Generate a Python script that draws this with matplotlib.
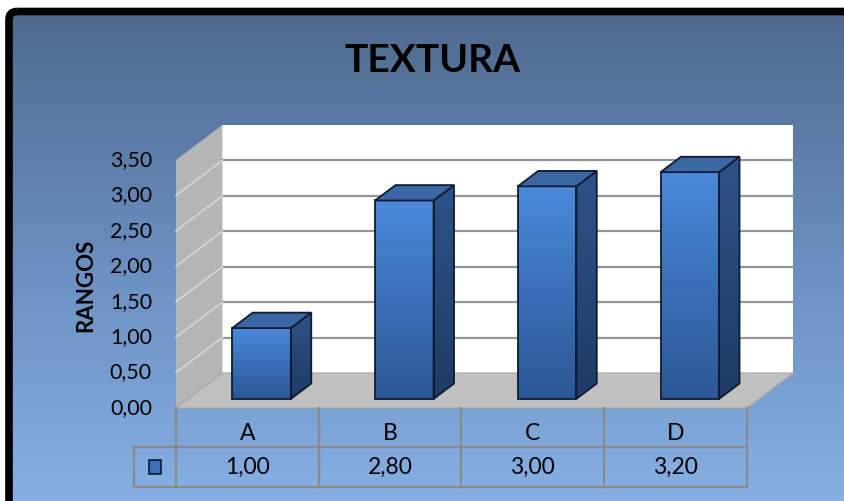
import numpy as np
import matplotlib
matplotlib.use('Agg')
import matplotlib.pyplot as plt
from matplotlib.patches import Polygon, FancyBboxPatch, Rectangle
from matplotlib.colors import LinearSegmentedColormap

# chart data
categories = ['A', 'B', 'C', 'D']
values = [1.00, 2.80, 3.00, 3.20]
y_ticks = [0.0, 0.5, 1.0, 1.5, 2.0, 2.5, 3.0, 3.5]
title = 'TEXTURA'
y_label = 'RANGOS'

plt.rcParams['font.family'] = ['Lato', 'DejaVu Sans']

W, H = 845, 501
fig = plt.figure(figsize=(W / 100, H / 100), dpi=100)

# background: blue gradient panel with black border
bg = fig.add_axes([0, 0, 1, 1])
bg.set_xlim(0, W)
bg.set_ylim(H, 0)
bg.axis('off')
grad = np.linspace(0, 1, 256).reshape(-1, 1)
bg_cmap = LinearSegmentedColormap.from_list('bg', ['#4e698e', '#6b8fc0', '#88b2e6'])
bg.imshow(grad, cmap=bg_cmap, extent=[9, 900, 520, 11], aspect='auto', zorder=0)
bg.add_patch(FancyBboxPatch((9, 11.5), 900, 520, boxstyle='round,pad=0,rounding_size=8',
                            facecolor='none', edgecolor='black', lw=5.5, zorder=2))
bg.set_xlim(0, W)
bg.set_ylim(H, 0)

# main axes = front plane of the 3d chart
ax = fig.add_axes([176 / W, (H - 408) / H, 571 / W, 248 / H])
ax.set_xlim(0, len(categories))
ax.set_ylim(0, 3.5)
ax.axis('off')
ax.patch.set_alpha(0)

DEPTH_X = 0.325   # category units for full depth
DEPTH_Y = 0.494   # value units for full depth


def proj(x, v, d):
    return (x + d * DEPTH_X, v + d * DEPTH_Y)


def face(pts, **kw):
    p = Polygon([proj(*q) for q in pts], closed=True, clip_on=False, **kw)
    ax.add_patch(p)
    return p


n = len(categories)
vmax = y_ticks[-1]

# walls and floor
face([(0, 0, 1), (n, 0, 1), (n, vmax, 1), (0, vmax, 1)], facecolor='white', edgecolor='none', zorder=1)
face([(0, 0, 0), (0, vmax, 0), (0, vmax, 1), (0, 0, 1)], facecolor='#b5b5b5', edgecolor='none', zorder=1)
face([(0, 0, 0), (n, 0, 0), (n, 0, 1), (0, 0, 1)], facecolor='#c0c0c0', edgecolor='#a8a8a8', lw=0.8, zorder=2)

for t in y_ticks[1:-1]:
    x0, y0 = proj(0, t, 1)
    x1, y1 = proj(n, t, 1)
    ax.plot([x0, x1], [y0, y1], color='#959595', lw=1.6, clip_on=False, zorder=1.5)
    x2, y2 = proj(0, t, 0)
    ax.plot([x2, x0], [y2, y0], color='#d6d6d6', lw=1.2, clip_on=False, zorder=1.5)

for t in y_ticks:
    ax.annotate(f'{t:.2f}'.replace('.', ','), xy=(0, t), xytext=(-24, 0), textcoords='offset pixels',
                ha='right', va='center', fontsize=15.5, color='black', annotation_clip=False)

# bars
front_cmap = LinearSegmentedColormap.from_list('front', ['#2c5894', '#3a6fb8', '#4a8ad8'])
side_cmap = LinearSegmentedColormap.from_list('side', ['#1f3b64', '#2e5288'])
edge = '#0e1b33'
bw = 0.41
d0, d1 = 0.26, 0.70
for i, v in enumerate(values):
    xl = i + 0.515 - bw / 2
    xr = xl + bw
    # front face
    fp = face([(xl, 0, d0), (xr, 0, d0), (xr, v, d0), (xl, v, d0)], facecolor='none',
              edgecolor=edge, lw=1.3, zorder=5)
    fx0, fy0 = proj(xl, 0, d0)
    fx1, fy1 = proj(xr, v, d0)
    ax.imshow(grad, cmap=front_cmap, origin='lower', extent=[fx0, fx1, fy0, fy1],
              aspect='auto', zorder=4, clip_path=fp)
    # side face
    sp = face([(xr, 0, d0), (xr, 0, d1), (xr, v, d1), (xr, v, d0)], facecolor='none',
              edgecolor=edge, lw=1.3, zorder=5)
    sx0, sy0 = proj(xr, 0, d0)
    sx1, sy1 = proj(xr, v, d1)
    ax.imshow(grad, cmap=side_cmap, origin='lower', extent=[sx0, sx1, sy0, sy1],
              aspect='auto', zorder=4, clip_path=sp)
    # top face
    face([(xl, v, d0), (xr, v, d0), (xr, v, d1), (xl, v, d1)], facecolor='#3a66a4',
         edgecolor=edge, lw=1.3, zorder=5)

ax.set_xlim(0, n)
ax.set_ylim(0, 3.5)

# data table below the floor
row_h = 0.556
key_w = 0.294
tc = '#8a8a8a'
ax.plot([0, 0], [0, -2 * row_h], color=tc, lw=1.6, clip_on=False, zorder=3)
for i in range(1, n + 1):
    ax.plot([i, i], [0, -2 * row_h], color=tc, lw=1.6, clip_on=False, zorder=3)
ax.plot([-key_w, n], [-row_h, -row_h], color=tc, lw=1.6, clip_on=False, zorder=3)
ax.plot([-key_w, n], [-2 * row_h, -2 * row_h], color=tc, lw=1.6, clip_on=False, zorder=3)
ax.plot([-key_w, -key_w], [-row_h, -2 * row_h], color=tc, lw=1.6, clip_on=False, zorder=3)
for i, (c, v) in enumerate(zip(categories, values)):
    ax.text(i + 0.5, -0.36, c, ha='center', va='center', fontsize=16.5, clip_on=False)
    ax.text(i + 0.5, -1.5 * row_h, f'{v:.2f}'.replace('.', ','), ha='center', va='center',
            fontsize=16.5, clip_on=False)
# legend key in table
ax.add_patch(Rectangle((-key_w / 2 - 0.045, -1.5 * row_h - 0.095), 0.09, 0.19, facecolor='#3a70b8',
                       edgecolor=edge, lw=1.2, clip_on=False, zorder=4))

# titles
fig.text(432 / W, 1 - 60 / H, title, ha='center', va='center', fontsize=28, fontweight='bold')
fig.text(86 / W, 1 - 285 / H, y_label, ha='center', va='center', rotation=90, fontsize=16,
         fontweight='bold')

fig.savefig('out.png', dpi=100)
